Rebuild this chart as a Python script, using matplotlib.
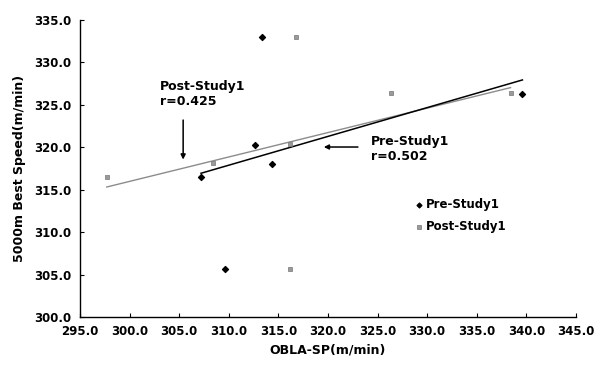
import matplotlib
matplotlib.use("Agg")
import matplotlib.pyplot as plt
import numpy as np

plt.rcParams.update({
    "font.family": "DejaVu Sans", "font.weight": "bold", "font.size": 8.5,
    "axes.labelweight": "bold",
})

pre_x = [313.3, 312.6, 314.4, 307.2, 309.6, 339.6]
pre_y = [333.0, 320.2, 318.0, 316.5, 305.7, 326.2]
post_x = [316.8, 297.7, 308.4, 316.2, 326.4, 338.4, 316.2]
post_y = [333.0, 316.5, 318.1, 320.3, 326.3, 326.3, 305.7]

xticks = np.arange(295, 345.1, 5)
yticks = np.arange(300, 335.1, 5)

fig = plt.figure(figsize=(6, 3.65), dpi=100)
ax = fig.add_axes([0.1333, 0.1315, 0.8267, 0.815])

ax.scatter(pre_x, pre_y, marker="D", s=9, color="black", label="Pre-Study1", zorder=3)
ax.scatter(post_x, post_y, marker="s", s=12, color="#9a9a9a", edgecolor="#777777",
           lw=0.5, label="Post-Study1", zorder=3)

# regression lines
for xs, ys, col, lw in [(post_x, post_y, "#8c8c8c", 1.0), (pre_x, pre_y, "black", 1.1)]:
    k, b = np.polyfit(xs, ys, 1)
    xx = np.array([min(xs), max(xs)])
    ax.plot(xx, k * xx + b, color=col, lw=lw, zorder=2)

ax.annotate("", xy=(305.4, 318.2), xytext=(305.4, 323.5),
            arrowprops=dict(arrowstyle="-|>", color="black", lw=1.1, mutation_scale=7))
ax.text(303.1, 327.9, "Post-Study1\nr=0.425", ha="left", va="top",
        fontsize=9, linespacing=1.2)
ax.annotate("", xy=(319.3, 320.0), xytext=(323.3, 320.0),
            arrowprops=dict(arrowstyle="-|>", color="black", lw=1.1, mutation_scale=7))
ax.text(324.3, 321.4, "Pre-Study1\nr=0.502", ha="left", va="top",
        fontsize=9, linespacing=1.2)

ax.legend(loc="upper left", bbox_to_anchor=(0.66, 0.42), frameon=False,
          handletextpad=0.1, borderpad=0, labelspacing=0.75, fontsize=8.5,
          markerscale=0.8, handlelength=1.0)

ax.set_xlim(295, 345)
ax.set_ylim(300, 335)
ax.set_xticks(xticks)
ax.set_yticks(yticks)
ax.set_xticklabels([f"{v:.1f}" for v in xticks])
ax.set_yticklabels([f"{v:.1f}" for v in yticks])
ax.tick_params(direction="in", length=3, width=0.8, pad=6)
for side in ["top", "right"]:
    ax.spines[side].set_visible(False)
for side in ["left", "bottom"]:
    ax.spines[side].set_linewidth(1.0)
ax.set_xlabel("OBLA-SP(m/min)", fontsize=9, labelpad=4)
ax.set_ylabel("5000m Best Speed(m/min)", fontsize=9, labelpad=6)

fig.savefig("out.png", dpi=100)
